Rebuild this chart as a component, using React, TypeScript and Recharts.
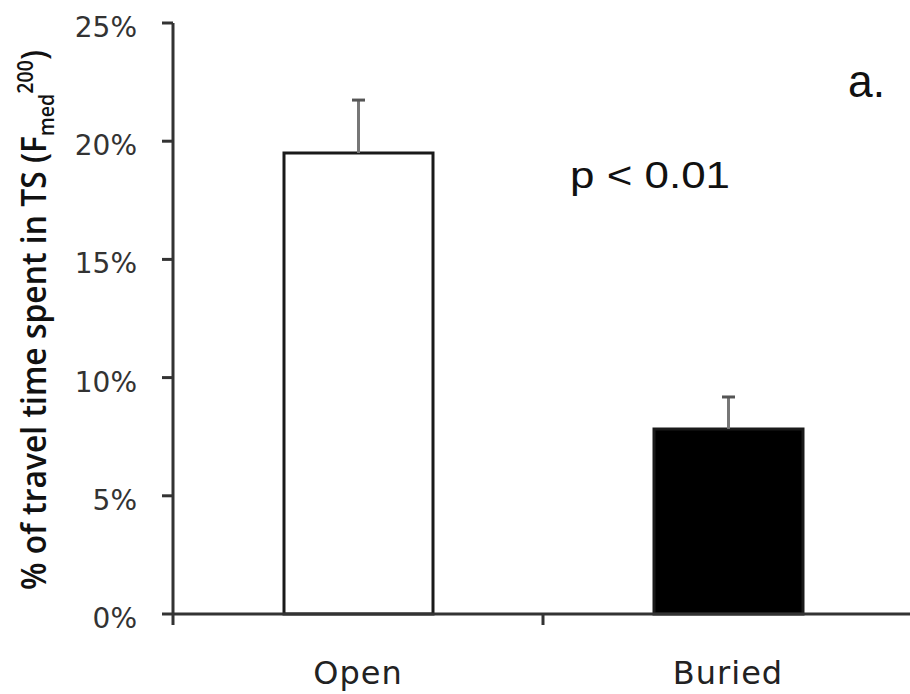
import React from 'react';
import { BarChart, Bar, XAxis, YAxis, Cell } from 'recharts';

const categories = ['Open', 'Buried'];
const means = [19.5, 7.83];
const upperErrors = [2.24, 1.35];
const barFills = ['#ffffff', '#000000'];
const yTicks = [0, 5, 10, 15, 20, 25];
const annotation = 'p < 0.01';
const panelLabel = 'a.';

const data = categories.map((name, i) => ({
  name,
  value: means[i],
  err: upperErrors[i],
}));

const XTick = (props: any) => {
  const { x, y, payload } = props;
  const off = payload && typeof payload.offset === 'number' ? payload.offset : 0;
  const bx = payload.coordinate - off;
  return (
    <g>
      <line x1={bx} y1={y} x2={bx} y2={y + 11} stroke="#333" strokeWidth={3} />
      <text
        x={x}
        y={y + 70}
        textAnchor="middle"
        fontFamily="DejaVu Sans"
        fontSize={32}
        fill="#222"
        letterSpacing={1}
      >
        {payload.value}
      </text>
    </g>
  );
};

// Upper-only error bar drawn from the bar's own scaled geometry
const ErrLabel = (props: any) => {
  const { x, y, width, height, index } = props;
  const d = data[index];
  if (!d || !height) return null;
  const pxPerUnit = height / d.value;
  const cx = x + width / 2;
  const top = y - d.err * pxPerUnit;
  return (
    <g>
      <line x1={cx} y1={y} x2={cx} y2={top} stroke="#777" strokeWidth={3} />
      <line x1={cx - 6.5} y1={top} x2={cx + 6.5} y2={top} stroke="#555" strokeWidth={3} />
    </g>
  );
};

export default function App() {
  return (
    <div style={{ position: 'absolute', left: 0, top: 0, width: 910, height: 694, overflow: 'hidden', background: '#fff' }}>
      <BarChart
        width={913}
        height={694}
        data={data}
        margin={{ top: 23, right: 0, left: 0, bottom: 0 }}
        barSize={149}
      >
        <XAxis
          dataKey="name"
          height={80}
          axisLine={{ stroke: '#333', strokeWidth: 3 }}
          tickLine={false}
          tickSize={0}
          tickMargin={0}
          tick={<XTick />}
          interval={0}
        />
        <YAxis
          width={173}
          domain={[0, 25]}
          ticks={yTicks}
          interval={0}
          tickFormatter={(v: number) => `${v}%`}
          axisLine={{ stroke: '#333', strokeWidth: 3 }}
          tickLine={{ stroke: '#333', strokeWidth: 3 }}
          tickSize={11}
          tickMargin={25}
          tick={{ fontFamily: 'DejaVu Sans', fontSize: 28, fill: '#333', dy: 4 }}
        />
        <Bar dataKey="value" isAnimationActive={false} stroke="#1a1a1a" strokeWidth={3} label={<ErrLabel />}>
          {data.map((d, i) => (
            <Cell key={d.name} fill={barFills[i]} />
          ))}
        </Bar>
      </BarChart>
      <svg width={910} height={694} style={{ position: 'absolute', left: 0, top: 0, pointerEvents: 'none' }}>
        <text
          transform="translate(46,320) rotate(-90) scale(1,1.3)"
          textAnchor="middle"
          fontFamily="Open Sans"
          fontWeight={600}
          fontSize={26}
          fill="#111"
          textLength={540}
          lengthAdjust="spacingAndGlyphs"
        >
          % of travel time spent in TS (F
          <tspan fontSize={16} dy={6}>med</tspan>
          <tspan fontSize={16} dy={-16}>200</tspan>
          <tspan dy={10}>)</tspan>
        </text>
        <text x={570} y={188} fontFamily="Liberation Sans" fontSize={36} fill="#111" textLength={160} lengthAdjust="spacingAndGlyphs">
          {annotation}
        </text>
        <text x={848} y={97} fontFamily="Liberation Sans" fontSize={46} fill="#111" textLength={37} lengthAdjust="spacingAndGlyphs">
          {panelLabel}
        </text>
      </svg>
    </div>
  );
}
